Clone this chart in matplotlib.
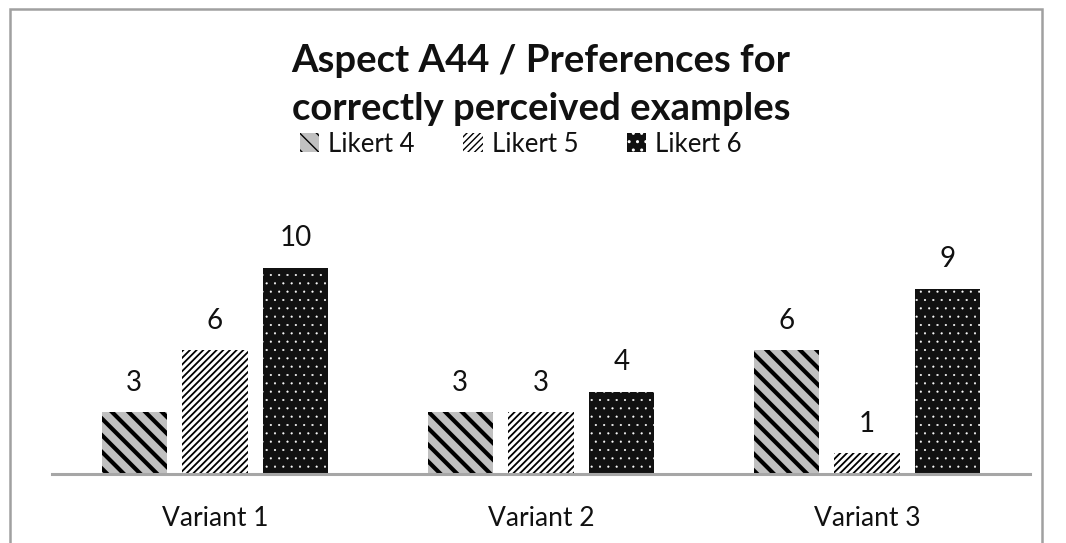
import matplotlib
matplotlib.use('Agg')
import matplotlib.pyplot as plt
import numpy as np
from matplotlib.patches import Rectangle

# data
categories = ["Variant 1", "Variant 2", "Variant 3"]
series_names = ["Likert 4", "Likert 5", "Likert 6"]
likert4 = [3, 3, 6]
likert5 = [6, 3, 1]
likert6 = [10, 4, 9]

plt.rcParams['font.family'] = ['Lato', 'DejaVu Sans']

W, H = 1066, 543
fig = plt.figure(figsize=(W / 100, H / 100), dpi=100)
ax = fig.add_axes([52 / W, 69 / H, 978 / W, 247.2 / H])

# bar styles: face, hatch colour, hatch, hatch linewidth
styles = [
    ("#c0c0c0", "black", "\\\\", 3.0),
    ("white", "black", "/////", 1.3),
    ("#111111", "white", "..", 0.3),
]

x = np.arange(len(categories))
width = 0.2
step = 0.248
offsets = [-step, 0, step]

for vals, name, off, (face, hcol, hatch, hlw) in zip(
        [likert4, likert5, likert6], series_names, offsets, styles):
    bars = ax.bar(x + off, vals, width, color=face, edgecolor=hcol,
                  linewidth=0, hatch=hatch, label=name)
    for b in bars:
        if hasattr(b, "set_hatch_linewidth"):
            b.set_hatch_linewidth(hlw)
    for b, v in zip(bars, vals):
        ax.annotate(str(v), (b.get_x() + b.get_width() / 2, v),
                    xytext=(0, 12), textcoords="offset points",
                    ha="center", va="bottom", fontsize=20, color="#111111")

ax.set_xlim(-0.5, 2.5)
ax.set_ylim(0, 12)
ax.set_xticks(x)
ax.set_xticklabels(categories, fontsize=19, color="#111111")
ax.tick_params(axis="x", length=0, pad=23)
ax.set_yticks([])
for s in ["top", "right", "left"]:
    ax.spines[s].set_visible(False)
ax.spines["bottom"].set_color("#a6a6a6")
ax.spines["bottom"].set_linewidth(2.2)

fig.text(541 / W, 1 - 85 / H, "Aspect A44 / Preferences for\ncorrectly perceived examples",
         ha="center", va="center", fontsize=27.5, fontweight="bold",
         linespacing=1.5, color="#111111")

leg = fig.legend(loc="center", bbox_to_anchor=(521 / W, 1 - 144 / H), ncol=3,
                 frameon=False, fontsize=18.5, handlelength=0.75, handleheight=0.75,
                 handletextpad=0.35, columnspacing=1.9)
for t in leg.get_texts():
    t.set_color("#111111")

# outer chart border
fig.patches.append(Rectangle((10 / W, -0.05), 1032 / W, 1.05 - 9 / H,
                             transform=fig.transFigure, fill=False,
                             edgecolor="#a0a0a0", linewidth=1.8))

fig.savefig("out.png", dpi=100)
